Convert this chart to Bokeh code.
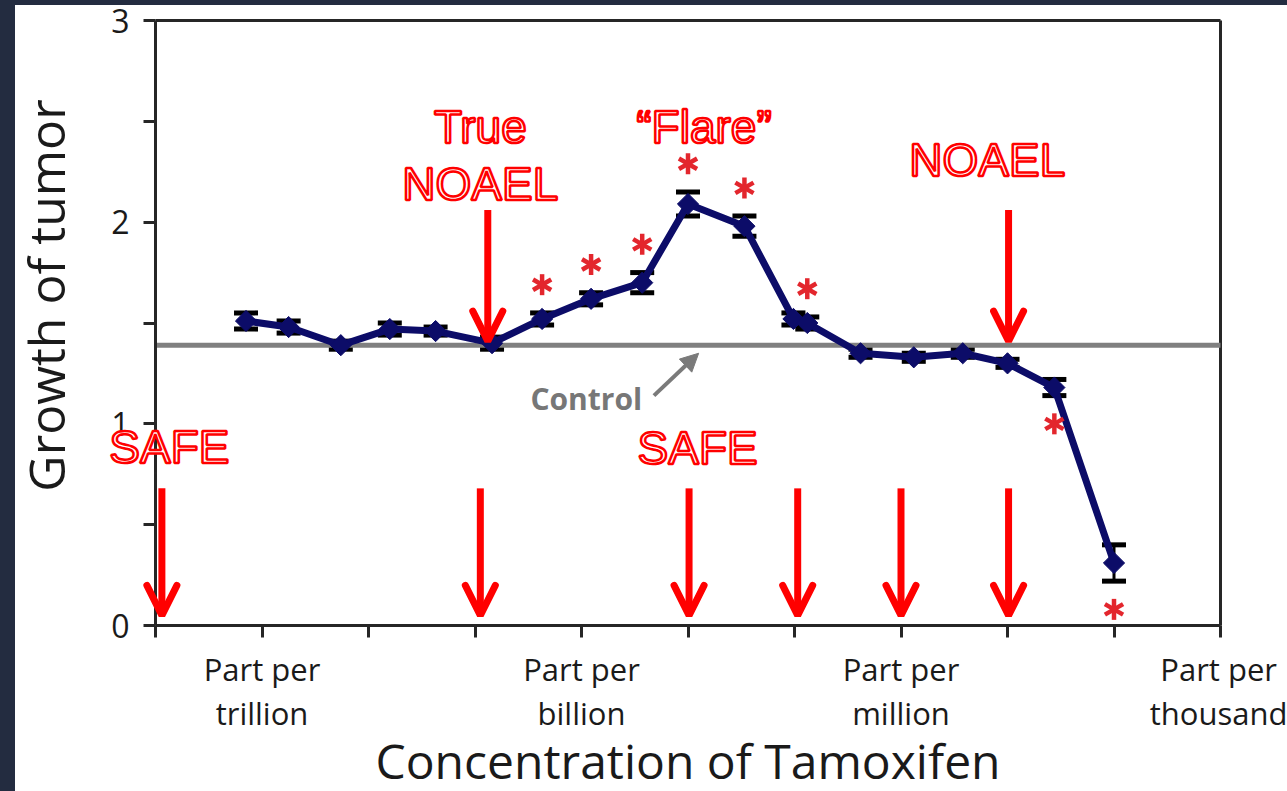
import math
from bokeh.plotting import figure
from bokeh.models import (ColumnDataSource, Whisker, TeeHead, Arrow, OpenHead,
                          NormalHead, Label, FixedTicker, Range1d, LinearAxis)
from bokeh.embed import file_html
from bokeh.resources import INLINE

# ---------------- data ----------------
conc_log = [0.85, 1.25, 1.74, 2.20, 2.63, 3.16, 3.63, 4.09, 4.57, 5.00,
            5.53, 5.99, 6.12, 6.62, 7.12, 7.58, 8.00, 8.44, 9.00]
growth = [1.51, 1.48, 1.39, 1.47, 1.46, 1.40, 1.52, 1.62, 1.70, 2.09,
          1.98, 1.52, 1.50, 1.35, 1.33, 1.35, 1.30, 1.18, 0.31]
err = [0.04, 0.03, 0.02, 0.03, 0.02, 0.03, 0.03, 0.03, 0.05, 0.06,
       0.05, 0.03, 0.03, 0.02, 0.02, 0.02, 0.02, 0.04, 0.09]
sig_above = [6, 7, 8, 9, 10, 12]
sig_below = [17, 18]
control_level = 1.39

x_ticks = list(range(11))
x_tick_labels = {1: "Part per\ntrillion", 4: "Part per\nbillion",
                 7: "Part per\nmillion", 10: "Part per\nthousand"}
y_ticks = [0, 0.5, 1, 1.5, 2, 2.5, 3]
y_tick_labels = {0: "0", 1: "1", 2: "2", 3: "3"}
x_title = "Concentration of Tamoxifen"
y_title = "Growth of tumor"

# annotation arrows (x, y_from, y_to)
safe_arrow_x = [0.06, 3.05, 5.01, 6.03, 7.00, 8.01]
safe_arrow_from, safe_arrow_to = 0.68, 0.05
noael_arrow_x = [3.12, 8.01]
noael_arrow_from, noael_arrow_to = 2.06, 1.41

# outlined red labels
note_text = ["True", "NOAEL", "\u201cFlare\u201d", "NOAEL", "SAFE", "SAFE"]
note_x = [3.05, 3.05, 5.15, 7.81, 0.13, 5.09]
note_y = [2.47, 2.19, 2.47, 2.31, 0.885, 0.88]

NAVY = "#0c0c68"
RED = "#ff0000"
STAR = "#e3262d"
AXIS = "#262626"
FONT = "Open Sans"
PX_X = 106.5     # pixels per x unit
PX_Y = 201.67    # pixels per y unit

# the frame fills the whole canvas; both axes are pinned at 0 inside it
p = figure(frame_width=1272, frame_height=786,
           x_range=Range1d(-140 / PX_X, 1132 / PX_X),
           y_range=Range1d(-166 / PX_Y, 3 + 15 / PX_Y),
           output_backend="svg", toolbar_location=None,
           x_axis_location=None, y_axis_location=None,
           min_border_left=0, min_border_right=0, min_border_top=0, min_border_bottom=0)
p.styles = {"border-left": "15px solid #232c40", "border-top": "5px solid #232c40"}
p.background_fill_color = "white"
p.border_fill_color = "white"
p.xgrid.visible = False
p.ygrid.visible = False
p.outline_line_color = None

xax = LinearAxis(fixed_location=0)
yax = LinearAxis(fixed_location=0)
p.add_layout(xax, "below")
p.add_layout(yax, "left")

for ax in (xax, yax):
    ax.axis_line_color = AXIS
    ax.axis_line_width = 3
    ax.major_tick_line_color = AXIS
    ax.major_tick_line_width = 3
    ax.major_tick_out = 12
    ax.major_tick_in = 0
    ax.minor_tick_out = 0
    ax.minor_tick_in = 0
    ax.major_label_text_font = FONT
    ax.major_label_text_color = "#1a1a1a"

xax.bounds = (x_ticks[0], x_ticks[-1])
xax.ticker = FixedTicker(ticks=x_ticks)
xax.major_label_overrides = {t: x_tick_labels.get(t, "") for t in x_ticks}
xax.major_label_text_font_size = "31px"
xax.major_label_text_line_height = 1.05
xax.major_label_standoff = 10

yax.bounds = (y_ticks[0], y_ticks[-1])
yax.ticker = FixedTicker(ticks=y_ticks)
yax.major_label_overrides = {t: y_tick_labels.get(t, "") for t in y_ticks}
yax.major_label_text_font_size = "32px"
yax.major_label_standoff = 14

# axis titles
p.add_layout(Label(x=(x_ticks[0] + x_ticks[-1]) / 2, y=-135 / PX_Y, text=x_title,
                   text_font=FONT, text_font_size="48px", text_color="#1a1a1a",
                   text_align="center", text_baseline="middle"))
p.add_layout(Label(x=-110 / PX_X, y=330 / PX_Y, text=y_title, angle=math.pi / 2,
                   text_font=FONT, text_font_size="50px", text_color="#1a1a1a",
                   text_align="center", text_baseline="middle"))

# top and right edges of the box
p.segment(x0=[x_ticks[0], x_ticks[-1]], y0=[y_ticks[-1], y_ticks[0]],
          x1=[x_ticks[-1], x_ticks[-1]], y1=[y_ticks[-1], y_ticks[-1]],
          line_color=AXIS, line_width=3)

# error bars
src = ColumnDataSource(dict(x=conc_log, y=growth,
                            upper=[g + e for g, e in zip(growth, err)],
                            lower=[g - e for g, e in zip(growth, err)]))
p.add_layout(Whisker(base="x", upper="upper", lower="lower", source=src,
                     line_color="black", line_width=3, level="underlay",
                     upper_head=TeeHead(size=24, line_color="black", line_width=5),
                     lower_head=TeeHead(size=24, line_color="black", line_width=5)))

# control line
p.segment(x0=[x_ticks[0]], x1=[x_ticks[-1]], y0=[control_level], y1=[control_level],
          line_color="#808080", line_width=5)

p.line("x", "y", source=src, line_color=NAVY, line_width=7)
p.scatter("x", "y", source=src, marker="square", angle=math.pi / 4, size=15,
          fill_color=NAVY, line_color=NAVY)

# significance asterisks (6-armed, from three dashes)
gap = 0.14
sx = [conc_log[i] for i in sig_above] + [conc_log[i] for i in sig_below]
sy = ([growth[i] + err[i] + gap for i in sig_above] +
      [growth[i] - err[i] - gap for i in sig_below])
for ang in (math.pi / 2, math.pi / 6, -math.pi / 6):
    p.scatter(sx, sy, marker="dash", angle=ang, size=21, line_color=STAR, line_width=4.5)

# red arrows
for xa in safe_arrow_x:
    p.add_layout(Arrow(x_start=xa, y_start=safe_arrow_from, x_end=xa, y_end=safe_arrow_to,
                       line_color=RED, line_width=7,
                       end=OpenHead(size=30, line_color=RED, line_width=7, line_cap="round")))
for xa in noael_arrow_x:
    p.add_layout(Arrow(x_start=xa, y_start=noael_arrow_from, x_end=xa, y_end=noael_arrow_to,
                       line_color=RED, line_width=7,
                       end=OpenHead(size=30, line_color=RED, line_width=7, line_cap="round")))

# control label and arrow
p.add_layout(Label(x=3.52, y=1.125, text="Control", text_font=FONT, text_font_style="bold",
                   text_font_size="30px", text_color="#777777", text_baseline="alphabetic"))
p.add_layout(Arrow(x_start=4.68, y_start=1.14, x_end=5.10, y_end=1.35,
                   line_color="#7a7a7a", line_width=4,
                   end=NormalHead(size=18, fill_color="#7a7a7a", line_color="#7a7a7a")))

# outlined red notes (faint border sets the stroke width used for the outline)
for t, xn, yn in zip(note_text, note_x, note_y):
    p.add_layout(Label(x=xn, y=yn, text=t, text_font="Liberation Sans",
                       text_font_size="46px", text_color="white", text_outline_color=RED,
                       border_line_color="white", border_line_alpha=0.01,
                       border_line_width=2.5,
                       text_align="center", text_baseline="alphabetic"))

open("out.html", "w").write(file_html(p, INLINE))
